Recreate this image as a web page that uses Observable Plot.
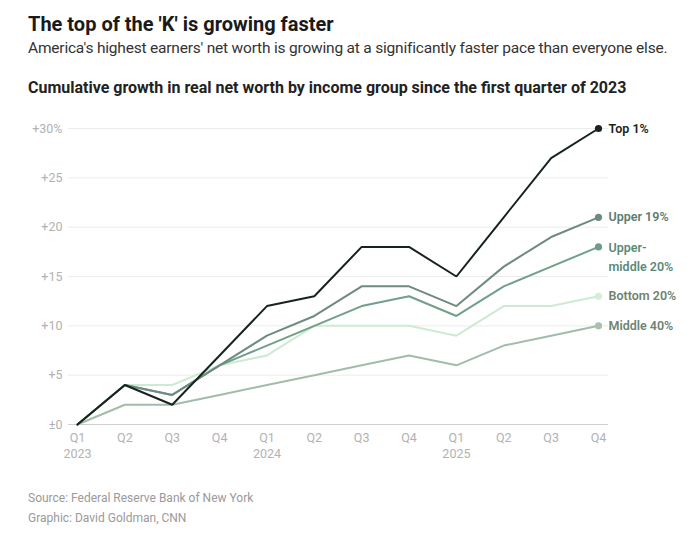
<!DOCTYPE html>
<html>
<head>
<meta charset="utf-8">
<script src="https://cdn.jsdelivr.net/npm/d3@7"></script>
<script src="https://cdn.jsdelivr.net/npm/@observablehq/plot@0.6"></script>
<style>
  html, body { margin: 0; padding: 0; background: #fff; }
  body { width: 700px; height: 549px; position: relative; overflow: hidden; font-family: Roboto, "Liberation Sans", sans-serif; }
  .t { position: absolute; left: 28px; white-space: nowrap; }
  #title { top: 12px; font-size: 20px; line-height: 24px; font-weight: 700; color: #1a1a1a; letter-spacing: 0; }
  #subtitle { top: 38px; font-size: 15.5px; line-height: 20px; color: #333; letter-spacing: -0.2px; }
  #heading { top: 78px; font-size: 16px; line-height: 20px; font-weight: 700; color: #222; letter-spacing: 0; }
  #chart { position: absolute; top: 108px; left: 0; }
  .foot { font-size: 12px; line-height: 20px; color: #9a9a9a; }
  #source { top: 488px; }
  #credit { top: 508px; }
</style>
</head>
<body>
<div class="t" id="title">The top of the 'K' is growing faster</div>
<div class="t" id="subtitle">America's highest earners' net worth is growing at a significantly faster pace than everyone else.</div>
<div class="t" id="heading">Cumulative growth in real net worth by income group since the first quarter of 2023</div>
<div id="chart"></div>
<div class="t foot" id="source">Source: Federal Reserve Bank of New York</div>
<div class="t foot" id="credit">Graphic: David Goldman, CNN</div>
<script>
// Quarter labels along the x axis
const quarters = ["Q1", "Q2", "Q3", "Q4", "Q1", "Q2", "Q3", "Q4", "Q1", "Q2", "Q3", "Q4"];
const years = ["2023", "", "", "", "2024", "", "", "", "2025", "", "", ""];

// Cumulative growth in real net worth (%) since Q1 2023
const top1 = [0, 4, 2, 7, 12, 13, 18, 18, 15, 21, 27, 30];
const upper19 = [0, 4, 3, 6, 9, 11, 14, 14, 12, 16, 19, 21];
const upperMiddle20 = [0, 4, 3, 6, 8, 10, 12, 13, 11, 14, 16, 18];
const bottom20 = [0, 4, 4, 6, 7, 10, 10, 10, 9, 12, 12, 13];
const middle40 = [0, 2, 2, 3, 4, 5, 6, 7, 6, 8, 9, 10];

// Y tick labels
const yTicks = [0, 5, 10, 15, 20, 25, 30];
const yTickLabels = ["±0", "+5", "+10", "+15", "+20", "+25", "+30%"];

// Series, drawn back to front
const groupNames = ["Bottom 20%", "Middle 40%", "Upper-middle 20%", "Upper 19%", "Top 1%"];
const groupValues = [bottom20, middle40, upperMiddle20, upper19, top1];
const lineColors = ["#cdebd2", "#a3bcaa", "#70a089", "#6f8a80", "#17231e"];
const dotColors = ["#d3efd7", "#a9c0af", "#6d9d87", "#6f8a80", "#1c2420"];
const labelColors = ["#6f8271", "#6b8475", "#5c8a76", "#5e7c70", "#1c2421"];
const labelTexts = ["Bottom 20%", "Middle 40%", "Upper-\nmiddle 20%", "Upper 19%", "Top 1%"];

const rows = groupNames.flatMap((g, k) => groupValues[k].map((v, i) => ({group: g, i, value: v})));
const ends = groupNames.map((g, k) => ({
  group: g, i: groupValues[k].length - 1, value: groupValues[k][groupValues[k].length - 1],
  label: labelTexts[k], color: labelColors[k], dot: dotColors[k]
}));
const colorOf = Object.fromEntries(groupNames.map((g, k) => [g, lineColors[k]]));

const chart = Plot.plot({
  width: 700,
  height: 360,
  marginTop: 20,
  marginBottom: 44,
  marginLeft: 77,
  marginRight: 102,
  style: {fontFamily: "Roboto, 'Liberation Sans', sans-serif", background: "transparent"},
  x: {domain: [0, 11]},
  y: {domain: [0, 30]},
  marks: [
    Plot.ruleY(yTicks.filter(d => d !== 0), {stroke: "#ececec", strokeWidth: 1, insetLeft: -9, insetRight: -10}),
    Plot.ruleY([0], {stroke: "#cfcfcf", strokeWidth: 1.2, insetLeft: -9, insetRight: -10}),
    Plot.axisY({
      ticks: yTicks, tickSize: 0, tickPadding: 15,
      tickFormat: (d) => yTickLabels[yTicks.indexOf(d)],
      fill: "#b2b2b2", fontSize: 12.5, label: null
    }),
    Plot.axisX({
      ticks: d3.range(12), tickSize: 0, tickPadding: 7,
      tickFormat: (i) => quarters[i] + (years[i] ? "\n" + years[i] : ""),
      fill: "#b2b2b2", fontSize: 12.5, lineHeight: 1.22, label: null
    }),
    Plot.line(rows, {
      x: "i", y: "value", z: "group",
      stroke: (d) => colorOf[d.group], strokeWidth: 2, strokeLinejoin: "miter"
    }),
    Plot.dot(ends, {x: "i", y: "value", r: 3.6, fill: "dot", stroke: "none"}),
    Plot.text(ends.filter(d => !d.label.includes("\n")), {
      x: "i", y: "value", text: "label", fill: "color",
      textAnchor: "start", dx: 10, fontSize: 12.5, fontWeight: 600
    }),
    Plot.text(ends.filter(d => d.label.includes("\n")), {
      x: "i", y: "value", text: "label", fill: "color",
      textAnchor: "start", lineAnchor: "top", dx: 10, dy: -8, lineHeight: 1.5,
      fontSize: 12.5, fontWeight: 600
    })
  ]
});
document.getElementById("chart").appendChild(chart);
</script>
</body>
</html>
